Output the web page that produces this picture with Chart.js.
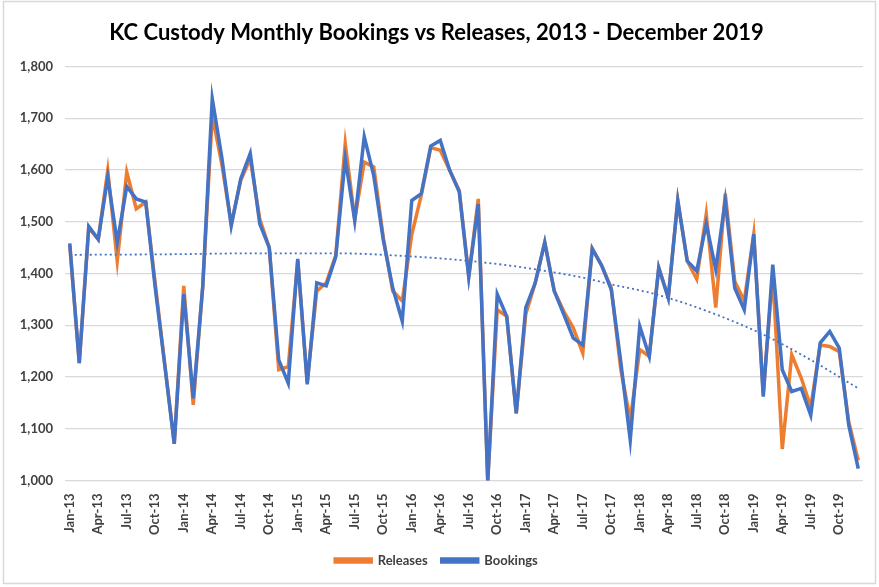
<!DOCTYPE html>
<html>
<head>
<meta charset="utf-8">
<script src="https://cdn.jsdelivr.net/npm/chart.js@4/dist/chart.umd.min.js"></script>
<style>
  html, body { margin: 0; padding: 0; background: #fff; }
  #wrap { width: 879px; height: 587px; }
</style>
</head>
<body>
<div id="wrap"><canvas id="myChart" width="879" height="587"></canvas></div>
<script>
// month labels Jan-13 .. Dec-19
const monthNames = ["Jan", "Feb", "Mar", "Apr", "May", "Jun", "Jul", "Aug", "Sep", "Oct", "Nov", "Dec"];
const years = ["13", "14", "15", "16", "17", "18", "19"];

const releases = [
  1455, 1227, 1488, 1466, 1599, 1424, 1596, 1525, 1538, 1380, 1225, 1071,
  1376, 1146, 1375, 1705, 1612, 1495, 1580, 1622, 1505, 1450, 1214, 1220,
  1425, 1190, 1366, 1382, 1435, 1651, 1505, 1615, 1606, 1470, 1366, 1347,
  1475, 1551, 1643, 1638, 1599, 1560, 1395, 1544, 1000, 1330, 1317, 1130,
  1321, 1382, 1460, 1366, 1327, 1295, 1246, 1448, 1415, 1372, 1215, 1117,
  1253, 1240, 1411, 1353, 1541, 1424, 1389, 1515, 1334, 1554, 1385, 1347,
  1476, 1168, 1399, 1061, 1243, 1198, 1142, 1262, 1259, 1249, 1113, 1039
];

const bookings = [
  1458, 1227, 1491, 1466, 1586, 1460, 1568, 1544, 1538, 1372, 1223, 1071,
  1360, 1159, 1375, 1738, 1625, 1492, 1583, 1632, 1496, 1450, 1233, 1188,
  1428, 1186, 1382, 1376, 1432, 1622, 1502, 1664, 1589, 1465, 1372, 1308,
  1541, 1554, 1646, 1657, 1599, 1558, 1393, 1534, 997, 1360, 1317, 1130,
  1334, 1382, 1460, 1366, 1321, 1275, 1262, 1448, 1415, 1369, 1230, 1078,
  1298, 1240, 1411, 1353, 1541, 1424, 1405, 1496, 1408, 1541, 1372, 1330,
  1476, 1162, 1417, 1214, 1172, 1178, 1126, 1266, 1288, 1256, 1107, 1023
];

// dotted trend line at a few months
const trendMonths = [0, 10, 20, 28, 35, 41, 46, 50, 54, 57, 61, 64, 68, 73, 78, 83];
const trendValues = [1436, 1437, 1439, 1439, 1434, 1426, 1416, 1405, 1392, 1379, 1363, 1347, 1321, 1282, 1233, 1178];

const yTicks = [1000, 1100, 1200, 1300, 1400, 1500, 1600, 1700, 1800];

const labels = [];
years.forEach((y) => monthNames.forEach((m) => labels.push(m + "-" + y)));

const trend = labels.map(() => null);
trendMonths.forEach((m, i) => (trend[m] = trendValues[i]));

const BLUE = "#4472C4";
const ORANGE = "#ED7D31";
const FONT = "Lato, 'Liberation Sans', sans-serif";

// white background + light frame like the excel chart border
const frame = {
  id: "frame",
  beforeDraw(chart) {
    const c = chart.ctx;
    c.save();
    c.fillStyle = "#fff";
    c.fillRect(0, 0, chart.width, chart.height);
    c.strokeStyle = "#d9d9d9";
    c.lineWidth = 1.5;
    c.strokeRect(3.5, 1.5, chart.width - 7, chart.height - 5);
    c.restore();
  },
};

const ctx = document.getElementById("myChart");

new Chart(ctx, {
  type: "line",
  data: {
    labels: labels,
    datasets: [
      {
        label: "Releases",
        data: releases,
        borderColor: ORANGE,
        backgroundColor: ORANGE,
        borderWidth: 3.5,
        pointRadius: 0,
        tension: 0,
        order: 2,
      },
      {
        label: "Bookings",
        data: bookings,
        borderColor: BLUE,
        backgroundColor: BLUE,
        borderWidth: 3.5,
        pointRadius: 0,
        tension: 0,
        order: 1,
      },
      {
        label: "trend",
        data: trend,
        borderColor: BLUE,
        backgroundColor: BLUE,
        borderWidth: 1.8,
        borderDash: [2, 3],
        pointRadius: 0,
        spanGaps: true,
        cubicInterpolationMode: "monotone",
        order: 0,
      },
    ],
  },
  plugins: [frame],
  options: {
    responsive: false,
    animation: false,
    layout: { padding: { top: 14, left: 10, right: 16, bottom: 10 } },
    plugins: {
      title: {
        display: true,
        text: "KC Custody Monthly Bookings vs Releases, 2013 - December 2019",
        color: "#000",
        font: { family: FONT, size: 22, weight: "bold" },
        padding: { top: 6, bottom: 20 },
      },
      legend: {
        position: "bottom",
        labels: {
          color: "#404040",
          font: { family: FONT, size: 13, weight: "bold" },
          boxWidth: 36,
          boxHeight: 3,
          padding: 14,
          filter: (item) => item.text !== "trend",
          sort: (a, b) => a.datasetIndex - b.datasetIndex,
        },
      },
      tooltip: { enabled: false },
    },
    scales: {
      x: {
        offset: true,
        grid: { display: false },
        border: { display: false },
        ticks: {
          autoSkip: false,
          maxRotation: 90,
          minRotation: 90,
          color: "#404040",
          font: { family: FONT, size: 13, weight: "bold" },
          padding: 5,
          callback: function (val, i) {
            return i % 3 === 0 ? labels[i] : "";
          },
        },
      },
      y: {
        min: 1000,
        max: 1800,
        afterBuildTicks: (axis) => {
          axis.ticks = yTicks.map((v) => ({ value: v }));
        },
        afterFit: (axis) => {
          axis.width = 55;
        },
        grid: { color: "#d9d9d9", lineWidth: 1.3, drawTicks: false },
        border: { display: false },
        ticks: {
          color: "#404040",
          padding: 12,
          font: { family: FONT, size: 13, weight: "bold" },
          callback: (v) => v.toLocaleString("en-US"),
        },
      },
    },
  },
});
</script>
</body>
</html>
